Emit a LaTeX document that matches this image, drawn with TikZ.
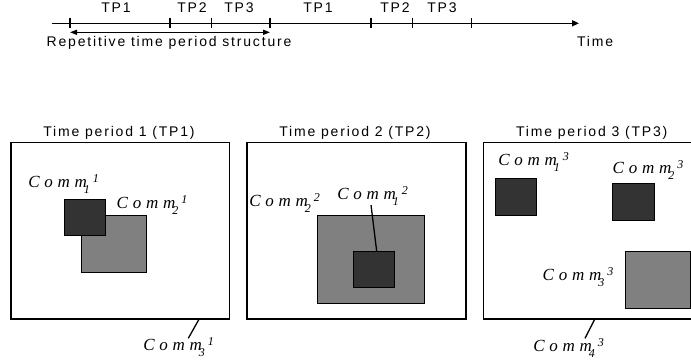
\documentclass[tikz,border=0pt]{standalone}
\usepackage{fontspec}
\setmainfont{Liberation Sans}
\newfontfamily\lsans[LetterSpace=13]{Liberation Sans}
\newfontfamily\commfont[LetterSpace=28]{Liberation Serif}
\newfontfamily\digfont{Liberation Serif}
\usetikzlibrary{arrows.meta}
\definecolor{darksq}{HTML}{333333}
\definecolor{greysq}{HTML}{808080}
\newcommand\commlbl[2]{{\fontsize{17}{19}\commfont\itshape Comm}\kern-3pt\raisebox{-6pt}{\fontsize{12}{13}\digfont\itshape #1}\kern3pt\raisebox{5pt}{\fontsize{12}{13}\digfont\itshape #2}}
\begin{document}
\begin{tikzpicture}[x=1pt,y=-1pt,
  lbl/.style={font=\fontsize{14}{16}\lsans, inner sep=0pt, outer sep=0pt},
  comm/.style={inner sep=0pt, outer sep=0pt, anchor=base west},
  frame/.style={draw=black, line width=1.6pt},
  sq/.style={draw=black, line width=0.8pt, inner sep=0pt, outer sep=0pt},
  tick/.style={line width=1.3pt},
  leader/.style={line width=1.3pt}]
\useasboundingbox (0,0) rectangle (691,364);
% timeline
\coordinate (tl0) at (51.7,23.3);
\coordinate (tlend) at (579,23.3);
\draw[line width=1.6pt, -{Triangle[length=7pt,width=6pt]}] (tl0) -- (tlend);
\foreach \x/\n in {70/a,170/b,211.7/c,270/d,371/e,412.3/f,471.7/g}{
  \coordinate (t\n) at (\x,23.3);
  \draw[tick] (\x,18.3) -- (\x,28.3);
}
\node[lbl, anchor=base] (tp1a) at (116,12.7) {TP1};
\node[lbl, anchor=base] (tp2a) at (192,12.7) {TP2};
\node[lbl, anchor=base] (tp3a) at (239,12.7) {TP3};
\node[lbl, anchor=base] (tp1b) at (318,12.7) {TP1};
\node[lbl, anchor=base] (tp2b) at (395,12.7) {TP2};
\node[lbl, anchor=base] (tp3b) at (442,12.7) {TP3};
\node[lbl, anchor=base west] (time) at (577,46) {Time};
\coordinate (ra) at (70,32.3);
\coordinate (rb) at (270,32.3);
\draw[line width=1.3pt, {Triangle[length=7pt,width=5pt]}-{Triangle[length=7pt,width=5pt]}] (ra) -- (rb);
\node[lbl, anchor=base west] (rep) at (46.7,46.7) {Repetitive time period structure};
% panel titles
\node[lbl, anchor=base] (t1) at (119,136.7) {Time period 1 (TP1)};
\node[lbl, anchor=base] (t2) at (355,136.7) {Time period 2 (TP2)};
\node[lbl, anchor=base] (t3) at (591.7,136.7) {Time period 3 (TP3)};
% frames
\draw[frame] (11,142.3) rectangle (229.3,318.7);
\draw[frame] (246.7,142.3) rectangle (466,318.7);
\draw[frame] (483.3,142.3) rectangle (691.5,318.7);
% panel 1
\node[sq, fill=greysq, minimum width=65pt, minimum height=57pt] (g11) at (114.2,243.5) {};
\node[sq, fill=darksq, minimum width=41.7pt, minimum height=36.7pt] (d11) at (84.85,217.35) {};
\node[comm] (c11) at (28.3,187.3) {\commlbl{1}{1}};
\node[comm] (c21) at (116.7,208.3) {\commlbl{2}{1}};
\node[comm] (c31) at (143.3,350) {\commlbl{3}{1}};
\coordinate (l1a) at (199.3,318.7);
\coordinate (l1b) at (188.3,338.3);
\draw[leader] (l1a) -- (l1b);
% panel 2
\node[sq, fill=greysq, minimum width=106.6pt, minimum height=88.3pt] (g22) at (371,259.15) {};
\node[sq, fill=darksq, minimum width=41.4pt, minimum height=36.4pt] (d12) at (374,269.5) {};
\node[comm] (c22) at (249.3,206.7) {\commlbl{2}{2}};
\node[comm] (c12) at (337.3,199.5) {\commlbl{1}{2}};
\coordinate (l2a) at (371,205);
\draw[leader] (l2a) -- (d12.north -| 376.7,0);
% panel 3
\node[sq, fill=darksq, minimum width=41.7pt, minimum height=36.7pt] (d13) at (515.85,196.65) {};
\node[sq, fill=darksq, minimum width=41.6pt, minimum height=36.3pt] (d23) at (633.5,201.85) {};
\node[sq, fill=greysq, minimum width=65pt, minimum height=57pt] (g33) at (657.5,279.8) {};
\node[comm] (c13) at (498.3,165) {\commlbl{1}{3}};
\node[comm] (c23) at (612.7,173) {\commlbl{2}{3}};
\node[comm] (c33) at (542.7,280) {\commlbl{3}{3}};
\node[comm] (c43) at (533.3,351) {\commlbl{4}{3}};
\coordinate (l3a) at (595,318.7);
\coordinate (l3b) at (585,338.3);
\draw[leader] (l3a) -- (l3b);
\end{tikzpicture}
\end{document}
